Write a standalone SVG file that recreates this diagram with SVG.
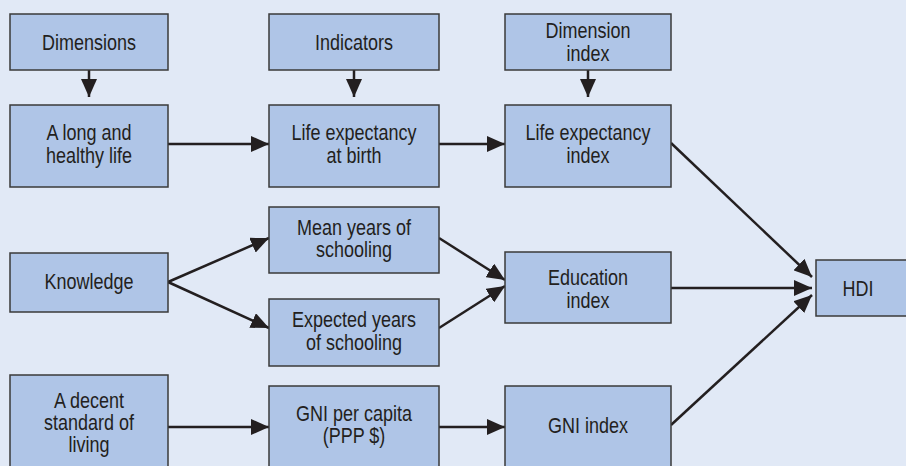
<svg xmlns="http://www.w3.org/2000/svg" width="906" height="466" viewBox="0 0 906 466">
<defs>
<style>
.box{fill:#afc5e7;stroke:#3a3a3a;stroke-width:1.5}
.t{font-family:"Liberation Sans",Arial,sans-serif;font-size:18px;fill:#231f20;text-anchor:middle}
.c{stroke:#231f20;stroke-width:2.5;fill:none;marker-end:url(#ah)}
</style>
<marker id="ah" viewBox="0 0 18 16" refX="18" refY="8" markerUnits="userSpaceOnUse" markerWidth="18" markerHeight="16" orient="auto">
<path d="M0,0 L18,8 L0,16 z" fill="#231f20"/>
</marker>
</defs>
<rect width="906" height="466" fill="#e1e9f6"/>
<g id="connectors">
<line class="c" x1="89" y1="70" x2="89" y2="97"/>
<line class="c" x1="354" y1="70" x2="354" y2="97"/>
<line class="c" x1="588" y1="70" x2="588" y2="97"/>
<line class="c" x1="168" y1="144" x2="269" y2="144"/>
<line class="c" x1="439" y1="144" x2="505" y2="144"/>
<line class="c" x1="168" y1="282" x2="269" y2="238"/>
<line class="c" x1="168" y1="282" x2="269" y2="328"/>
<line class="c" x1="439" y1="238" x2="505" y2="280"/>
<line class="c" x1="439" y1="328" x2="505" y2="286"/>
<line class="c" x1="168" y1="427" x2="269" y2="427"/>
<line class="c" x1="439" y1="427" x2="505" y2="427"/>
<line class="c" x1="671" y1="143" x2="812" y2="277"/>
<line class="c" x1="671" y1="288" x2="812" y2="288"/>
<line class="c" x1="671" y1="425" x2="812" y2="295"/>
</g>
<g id="dimensions"><rect class="box" x="10" y="14" width="158" height="56"/><text class="t" transform="translate(89,50) scale(1,1.2)">Dimensions</text></g>
<g id="indicators"><rect class="box" x="269" y="14" width="170" height="56"/><text class="t" transform="translate(354,50) scale(1,1.2)">Indicators</text></g>
<g id="dimension-index"><rect class="box" x="505" y="14" width="166" height="56"/><text class="t" transform="translate(588,38) scale(1,1.2)">Dimension</text><text class="t" transform="translate(588,61) scale(1,1.2)">index</text></g>
<g id="long-healthy-life"><rect class="box" x="10" y="105" width="158" height="82"/><text class="t" transform="translate(89,140) scale(1,1.2)">A long and</text><text class="t" transform="translate(89,163) scale(1,1.2)">healthy life</text></g>
<g id="life-expectancy-birth"><rect class="box" x="269" y="105" width="170" height="82"/><text class="t" transform="translate(354,140) scale(1,1.2)">Life expectancy</text><text class="t" transform="translate(354,163) scale(1,1.2)">at birth</text></g>
<g id="life-expectancy-index"><rect class="box" x="505" y="105" width="166" height="82"/><text class="t" transform="translate(588,140) scale(1,1.2)">Life expectancy</text><text class="t" transform="translate(588,163) scale(1,1.2)">index</text></g>
<g id="knowledge"><rect class="box" x="10" y="253" width="158" height="59"/><text class="t" transform="translate(89,289) scale(1,1.2)">Knowledge</text></g>
<g id="mean-years"><rect class="box" x="269" y="207" width="170" height="66"/><text class="t" transform="translate(354,235) scale(1,1.2)">Mean years of</text><text class="t" transform="translate(354,257) scale(1,1.2)">schooling</text></g>
<g id="expected-years"><rect class="box" x="269" y="299" width="170" height="67"/><text class="t" transform="translate(354,327) scale(1,1.2)">Expected years</text><text class="t" transform="translate(354,350) scale(1,1.2)">of schooling</text></g>
<g id="education-index"><rect class="box" x="505" y="252" width="166" height="71"/><text class="t" transform="translate(588,285) scale(1,1.2)">Education</text><text class="t" transform="translate(588,308) scale(1,1.2)">index</text></g>
<g id="decent-standard"><rect class="box" x="10" y="375" width="158" height="100"/><text class="t" transform="translate(89,408) scale(1,1.2)">A decent</text><text class="t" transform="translate(89,430) scale(1,1.2)">standard of</text><text class="t" transform="translate(89,452) scale(1,1.2)">living</text></g>
<g id="gni-per-capita"><rect class="box" x="269" y="386" width="170" height="90"/><text class="t" transform="translate(354,421) scale(1,1.2)">GNI per capita</text><text class="t" transform="translate(354,443) scale(1,1.2)">(PPP $)</text></g>
<g id="gni-index"><rect class="box" x="505" y="386" width="166" height="90"/><text class="t" transform="translate(588,433) scale(1,1.2)">GNI index</text></g>
<g id="hdi"><rect class="box" x="816" y="260" width="100" height="56"/><text class="t" transform="translate(858,296) scale(1,1.2)">HDI</text></g>
</svg>
